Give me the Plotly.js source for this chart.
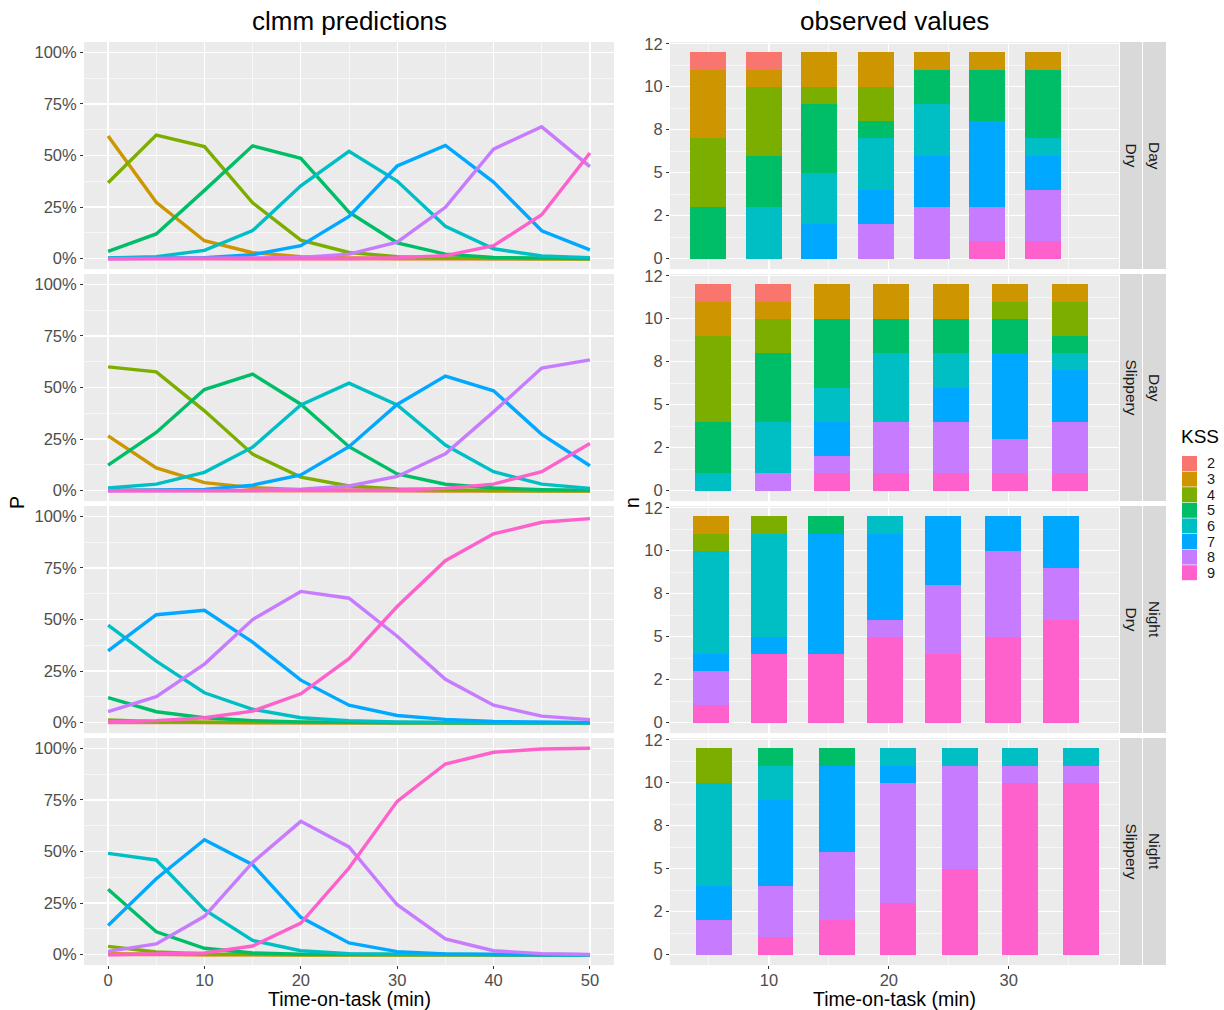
<!DOCTYPE html>
<html>
<head>
<meta charset="utf-8">
<script src="https://cdn.plot.ly/plotly-3.0.1.min.js"></script>
<style>html,body{margin:0;padding:0;background:#fff;}#chart{width:1224px;height:1010px;}</style>
</head>
<body>
<div id="chart"></div>
<script>
// ---------- data ----------
const kssLevels = ['2','3','4','5','6','7','8','9'];
const kssColors = ['#F8766D','#CD9600','#7CAE00','#00BE67','#00BFC4','#00A9FF','#C77CFF','#FF61CC'];
const panelNames = [['Day','Dry'],['Day','Slippery'],['Night','Dry'],['Night','Slippery']];

// clmm predicted probabilities (%), rows = KSS 2..9, columns = time points
const predTimes = [0,5,10,15,20,25,30,35,40,45,50];
const predDayDry = [
  [0.3,0.1,0,0,0,0,0,0,0,0,0],
  [59.4,27.3,8.7,2.9,1.0,0.3,0.1,0,0,0,0],
  [36.8,59.9,54.3,27.1,9.0,3.0,1.0,0.3,0.1,0,0],
  [3.5,12.0,33.1,54.7,48.6,22.5,7.7,2.2,0.6,0.2,0.1],
  [0.3,1.0,4.0,13.6,35.3,52.0,37.6,15.7,4.8,1.3,0.5],
  [0.1,0.2,0.5,1.9,6.3,20.5,44.9,54.9,37.1,13.5,4.3],
  [0,0,0.1,0.3,0.6,2.2,8.0,24.9,53.1,63.9,44.6],
  [0,0,0,0,0.1,0.1,0.5,1.5,6.3,21.3,51.2]
];
const predDaySlippery = [
  [0.2,0,0,0,0,0,0,0,0,0,0],
  [26.6,11.0,3.9,1.5,0.5,0.2,0.1,0,0,0,0],
  [60.0,57.6,38.7,17.7,6.6,2.3,0.8,0.3,0.1,0,0],
  [12.4,28.2,49.0,56.5,41.9,21.3,8.1,3.1,1.3,0.5,0.2],
  [1.3,3.2,8.9,21.1,41.5,52.1,41.5,22.1,9.2,3.2,1.1],
  [0.1,0.3,0.6,2.7,7.6,21.3,41.8,55.5,48.4,27.3,12.1],
  [0,0,0,0.1,0.7,2.3,6.9,17.9,38.2,59.4,63.4],
  [0,0,0,0,0,0.1,0.3,1.1,3.2,9.2,22.9]
];
const predNightDry = [
  [0.1,0,0,0,0,0,0,0,0,0,0],
  [0.5,0.2,0.1,0,0,0,0,0,0,0,0],
  [1.3,0.5,0.2,0.1,0,0,0,0,0,0,0],
  [12.1,5.3,2.4,1.0,0.4,0.1,0,0,0,0,0],
  [47.3,29.8,14.5,6.5,2.4,1.0,0.4,0.1,0,0,0],
  [34.8,52.3,54.5,39.0,20.6,8.5,3.5,1.6,0.6,0.3,0.1],
  [5.3,12.6,28.4,50.0,63.6,60.3,41.9,21.0,8.5,3.2,1.5],
  [0.3,1.0,2.4,5.6,14.0,31.0,56.3,78.5,91.5,97.1,98.9]
];
const predNightSlippery = [
  [0.1,0,0,0,0,0,0,0,0,0,0],
  [0.5,0.1,0,0,0,0,0,0,0,0,0],
  [4.0,1.3,0.4,0.1,0,0,0,0,0,0,0],
  [31.7,11.1,3.1,0.8,0.2,0.1,0,0,0,0,0],
  [49.1,45.9,21.8,6.9,1.9,0.5,0.2,0.1,0,0,0],
  [14.1,36.8,55.7,43.6,18.1,5.7,1.5,0.4,0.1,0,0],
  [1.6,5.2,18.6,44.7,64.6,52.2,24.2,7.6,1.9,0.5,0.1],
  [0,0.2,0.8,4.2,15.3,42.0,74.3,92.4,98.1,99.7,100]
];

// observed counts, rows = KSS 2..9, columns = time bins
const obsTimesDayDry = [4.9,9.6,14.2,18.9,23.6,28.2,32.9];
const obsTimesDaySlippery = [5.3,10.35,15.3,20.2,25.2,30.1,35.1];
const obsTimesNightDry = [5.15,10.0,14.8,19.7,24.55,29.5,34.4];
const obsTimesNightSlippery = [5.4,10.55,15.65,20.8,25.9,30.95,36.0];
const obsDayDry = [
  [1,1,0,0,0,0,0],
  [4,1,2,2,1,1,1],
  [4,4,1,2,0,0,0],
  [3,3,4,1,2,3,4],
  [0,3,3,3,3,0,1],
  [0,0,2,2,3,5,2],
  [0,0,0,2,3,2,3],
  [0,0,0,0,0,1,1]
];
const obsDaySlippery = [
  [1,1,0,0,0,0,0],
  [2,1,2,2,2,1,1],
  [5,2,0,0,0,1,2],
  [3,4,4,2,2,2,1],
  [1,3,2,4,2,0,1],
  [0,0,2,0,2,5,3],
  [0,1,1,3,3,2,3],
  [0,0,1,1,1,1,1]
];
const obsNightDry = [
  [0,0,0,0,0,0,0],
  [1,0,0,0,0,0,0],
  [1,1,0,0,0,0,0],
  [0,0,1,0,0,0,0],
  [6,6,0,1,0,0,0],
  [1,1,7,5,4,2,3],
  [2,0,0,1,4,5,3],
  [1,4,4,5,4,5,6]
];
const obsNightSlippery = [
  [0,0,0,0,0,0,0],
  [0,0,0,0,0,0,0],
  [2,0,0,0,0,0,0],
  [0,1,1,0,0,0,0],
  [6,2,0,1,1,1,1],
  [2,5,5,1,0,0,0],
  [2,3,4,7,6,1,1],
  [0,1,2,3,5,10,10]
];

const predPanels = [predDayDry, predDaySlippery, predNightDry, predNightSlippery];
const obsPanels = [obsDayDry, obsDaySlippery, obsNightDry, obsNightSlippery];
const obsTimes = [obsTimesDayDry, obsTimesDaySlippery, obsTimesNightDry, obsTimesNightSlippery];

const pctTicks = [0,25,50,75,100];
const pctTickText = ['0%','25%','50%','75%','100%'];
const nTicks = [0,2.5,5,7.5,10,12.5];
const nTickText = ['0','2','5','8','10','12'];

// ---------- layout helpers ----------
const W = 1224, H = 1010;
const FONT = 'Liberation Sans, Arial, Helvetica, sans-serif';
const px = x => x / W;
const py = y => 1 - y / H;
const panelTops = [42, 274, 506, 738];
const panelH = 227;
const leftX = [84, 614], rightX = [670, 1119];

const traces = [];
for (let r = 0; r < 4; r++) {
  const ax = r + 1;
  for (let k = 0; k < kssLevels.length; k++) {
    traces.push({
      type: 'scatter', mode: 'lines',
      x: predTimes, y: predPanels[r][k],
      xaxis: 'x' + ax, yaxis: 'y' + ax,
      line: {color: kssColors[k], width: 3.4},
      showlegend: false, hoverinfo: 'skip'
    });
  }
}
for (let r = 0; r < 4; r++) {
  const ax = r + 5;
  for (let k = kssLevels.length - 1; k >= 0; k--) {
    traces.push({
      type: 'bar',
      x: obsTimes[r], y: obsPanels[r][k],
      width: 3,
      xaxis: 'x' + ax, yaxis: 'y' + ax,
      marker: {color: kssColors[k], line: {width: 0}},
      name: kssLevels[k],
      showlegend: false, hoverinfo: 'skip'
    });
  }
}

const tickFont = {family: FONT, size: 16.5, color: '#4D4D4D'};
const layout = {
  width: W, height: H,
  margin: {l: 0, r: 0, t: 0, b: 0},
  paper_bgcolor: '#FFFFFF',
  plot_bgcolor: '#EBEBEB',
  barmode: 'stack',
  showlegend: false,
  font: {family: FONT},
  shapes: [],
  annotations: []
};

for (let r = 0; r < 4; r++) {
  const top = panelTops[r], bot = top + panelH;
  const yd = [py(bot), py(top)];
  const isBottom = r === 3;
  // left
  layout['xaxis' + (r + 1)] = {
    domain: [px(leftX[0]), px(leftX[1])], anchor: 'y' + (r + 1),
    range: [-2.5, 52.5], tickvals: [0,10,20,30,40,50], ticktext: ['0','10','20','30','40','50'],
    showticklabels: isBottom, ticks: isBottom ? 'outside' : '', ticklen: 3, tickcolor: '#333', tickwidth: 1,
    ticklabelstandoff: -3,
    tickfont: tickFont, showgrid: true, gridcolor: '#FFFFFF', gridwidth: 1.2,
    minor: {tickvals: [5,15,25,35,45], showgrid: true, gridcolor: '#FFFFFF', gridwidth: 0.6, ticks: ''},
    zeroline: false, showline: false, fixedrange: true
  };
  layout['yaxis' + (r + 1)] = {
    domain: yd, anchor: 'x' + (r + 1),
    range: [-5, 105], tickvals: pctTicks, ticktext: pctTickText,
    ticks: 'outside', ticklen: 3, tickcolor: '#333', tickwidth: 1,
    tickfont: tickFont, showgrid: true, gridcolor: '#FFFFFF', gridwidth: 1.2,
    minor: {tickvals: [12.5,37.5,62.5,87.5], showgrid: true, gridcolor: '#FFFFFF', gridwidth: 0.6, ticks: ''},
    zeroline: false, showline: false, fixedrange: true
  };
  // right
  layout['xaxis' + (r + 5)] = {
    domain: [px(rightX[0]), px(rightX[1])], anchor: 'y' + (r + 5),
    range: [1.75, 39.2], tickvals: [10,20,30], ticktext: ['10','20','30'],
    showticklabels: isBottom, ticks: isBottom ? 'outside' : '', ticklen: 3, tickcolor: '#333', tickwidth: 1,
    ticklabelstandoff: -3,
    tickfont: tickFont, showgrid: true, gridcolor: '#FFFFFF', gridwidth: 1.2,
    minor: {tickvals: [5,15,25,35], showgrid: true, gridcolor: '#FFFFFF', gridwidth: 0.6, ticks: ''},
    zeroline: false, showline: false, fixedrange: true
  };
  layout['yaxis' + (r + 5)] = {
    domain: yd, anchor: 'x' + (r + 5),
    range: [-0.6, 12.6], tickvals: nTicks, ticktext: nTickText,
    ticks: 'outside', ticklen: 3, tickcolor: '#333', tickwidth: 1,
    tickfont: tickFont, showgrid: true, gridcolor: '#FFFFFF', gridwidth: 1.2,
    minor: {tickvals: [1.25,3.75,6.25,8.75,11.25], showgrid: true, gridcolor: '#FFFFFF', gridwidth: 0.6, ticks: ''},
    zeroline: false, showline: false, fixedrange: true
  };
  // strips
  layout.shapes.push({type: 'rect', xref: 'paper', yref: 'paper', x0: px(1120), x1: px(1142), y0: py(bot), y1: py(top), fillcolor: '#D9D9D9', line: {width: 0}, layer: 'below'});
  layout.shapes.push({type: 'rect', xref: 'paper', yref: 'paper', x0: px(1143), x1: px(1166), y0: py(bot), y1: py(top), fillcolor: '#D9D9D9', line: {width: 0}, layer: 'below'});
  const cy = py((top + bot) / 2);
  layout.annotations.push({xref: 'paper', yref: 'paper', x: px(1131), y: cy, text: panelNames[r][1], showarrow: false, textangle: 90, font: {family: FONT, size: 15.5, color: '#1A1A1A'}, xanchor: 'center', yanchor: 'middle'});
  layout.annotations.push({xref: 'paper', yref: 'paper', x: px(1154.5), y: cy, text: panelNames[r][0], showarrow: false, textangle: 90, font: {family: FONT, size: 15.5, color: '#1A1A1A'}, xanchor: 'center', yanchor: 'middle'});
}

// titles and axis titles
const titleFont = {family: FONT, size: 26, color: '#000000'};
const axTitleFont = {family: FONT, size: 19.5, color: '#000000'};
layout.annotations.push({xref: 'paper', yref: 'paper', x: px(349), y: py(21), text: 'clmm predictions', showarrow: false, font: titleFont, xanchor: 'center', yanchor: 'middle'});
layout.annotations.push({xref: 'paper', yref: 'paper', x: px(894.5), y: py(21), text: 'observed values', showarrow: false, font: titleFont, xanchor: 'center', yanchor: 'middle'});
layout.annotations.push({xref: 'paper', yref: 'paper', x: px(349), y: py(999), text: 'Time-on-task (min)', showarrow: false, font: axTitleFont, xanchor: 'center', yanchor: 'middle'});
layout.annotations.push({xref: 'paper', yref: 'paper', x: px(894.5), y: py(999), text: 'Time-on-task (min)', showarrow: false, font: axTitleFont, xanchor: 'center', yanchor: 'middle'});
layout.annotations.push({xref: 'paper', yref: 'paper', x: px(17), y: py(503), text: 'P', showarrow: false, textangle: -90, font: axTitleFont, xanchor: 'center', yanchor: 'middle'});
layout.annotations.push({xref: 'paper', yref: 'paper', x: px(632), y: py(503), text: 'n', showarrow: false, textangle: -90, font: axTitleFont, xanchor: 'center', yanchor: 'middle'});

// legend (drawn manually to match ggplot key spacing)
layout.annotations.push({xref: 'paper', yref: 'paper', x: px(1179), y: py(437), text: 'KSS', showarrow: false, font: {family: FONT, size: 19, color: '#000000'}, xanchor: 'left', yanchor: 'middle'});
for (let k = 0; k < kssLevels.length; k++) {
  const y0 = 456 + k * 15.6;
  layout.shapes.push({type: 'rect', xref: 'paper', yref: 'paper', x0: px(1182), x1: px(1197), y0: py(y0 + 15), y1: py(y0), fillcolor: kssColors[k], line: {width: 0}});
  layout.annotations.push({xref: 'paper', yref: 'paper', x: px(1205), y: py(y0 + 7.5), text: kssLevels[k], showarrow: false, font: {family: FONT, size: 14.5, color: '#1A1A1A'}, xanchor: 'left', yanchor: 'middle'});
}

Plotly.newPlot('chart', traces, layout, {staticPlot: true, displayModeBar: false});
</script>
</body>
</html>
